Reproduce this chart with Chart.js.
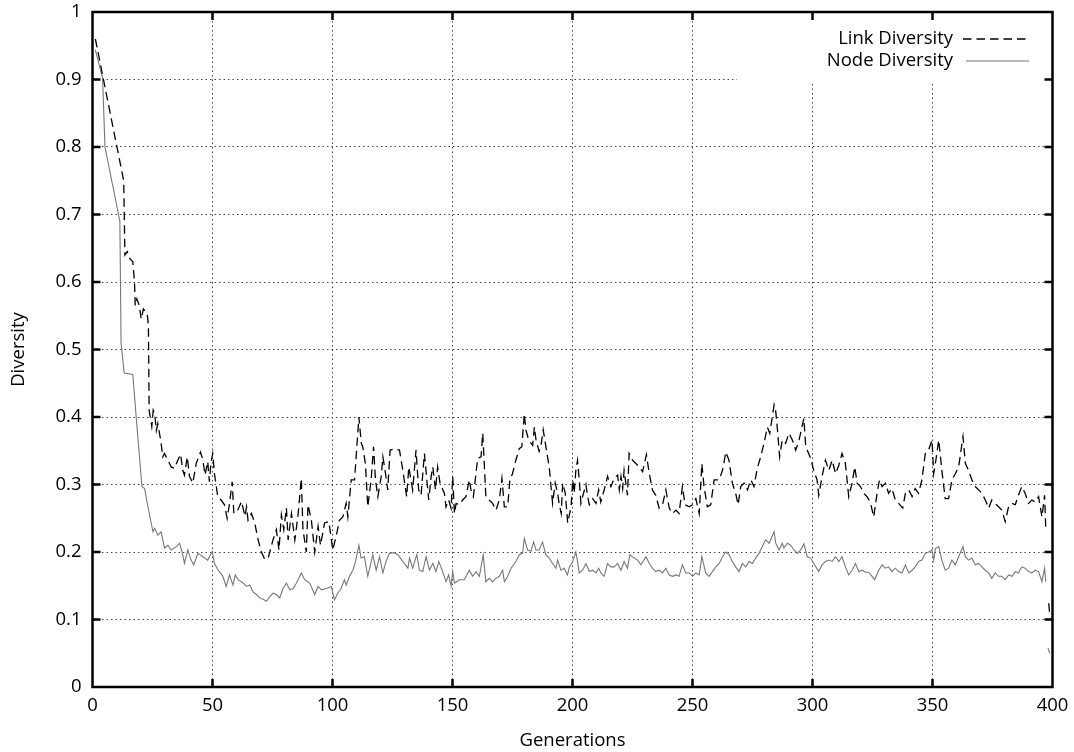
<!DOCTYPE html>
<html><head><meta charset="utf-8">
<script src="https://cdn.jsdelivr.net/npm/chart.js@4/dist/chart.umd.min.js"></script>
<style>html,body{margin:0;padding:0;background:#fff}canvas{display:block}</style>
</head><body>
<canvas id="c" width="1074" height="752" style="width:1074px;height:752px"></canvas>
<script>
// ---- data ----
const linkGen = [1.2,13,13.5,14.5,15.5,16.8,17.5,17.8,18.5,19.5,20.3,21.2,22.8,23.3,23.6,24.7,25.3,25.9,26.6,27.2,28.4,29.3,30,31.4,32.8,34.2,35.3,36.7,37.6,38.3,39.5,40.4,41.8,43.2,45,46,46.9,48,48.7,49.4,50.1,50.8,51.5,52.2,53.6,55,56.1,57.1,58.2,58.9,60.5,62.1,63.5,64.2,64.8,66.2,67.6,69,70.4,71.8,73.2,74.1,75.2,76.6,77.7,78.7,79.7,80.8,81.5,82.9,84.3,85.6,87,87.7,89.1,89.8,91.2,92.6,94,95,96.7,98.5,100.1,101.5,102.9,104.3,105.7,106.4,107.8,109.2,111,112,112.6,113.7,114.7,116.1,117.1,117.9,118.9,120.3,121,122.1,123,124,125.8,127.9,129.3,130.9,131.8,132.7,133.4,134.8,135.9,136.9,138.3,139.3,140.1,141.1,141.8,142.9,143.8,144.8,146.6,147.3,148.4,149.4,150.1,150.8,151.5,152.9,154.2,155.6,157,157.7,158.7,160.5,161.9,162.6,163.3,163.9,165.3,166.7,168.1,169.5,170.6,171.6,173,173.9,175,176.4,177.8,178.9,179.9,180.6,181.7,183.4,184.1,184.8,186.1,186.8,187.8,188.9,190.3,191.7,192.8,193.8,194.5,195.3,195.9,197,198,199.4,200.1,200.7,201.4,202.1,202.8,203.5,204.2,205.6,206.3,207,208.4,209.8,210.9,211.8,213.2,214.6,216,217.4,218.8,219.5,220.2,220.9,221.5,222.9,223.6,225,226.4,227.8,229.2,230.8,232,233.3,234.7,236.1,237.5,238.9,240.3,241.7,243.1,244.4,245.8,246.9,248.6,250,251.4,252.8,253.9,254.8,256.2,257.6,259,261.1,262.5,263.9,265.2,266.6,268,269,270.1,271.5,272.9,274.3,275.6,277,278.4,279.8,281.2,282.2,284,284.7,285.4,286.3,287.4,288.8,290.2,291.6,293,294.4,296.4,297.1,297.8,299.2,300.5,301.9,302.6,304,305.4,306.8,308.2,309.6,311,312.3,313.7,315.1,316.5,317.6,318.6,320,321.3,322.7,324.1,325.5,326.9,327.9,329,330.4,331.7,333.1,334.5,335.9,337.6,338.7,340.1,341.5,342.8,344.2,345.6,347,348.4,349.8,350.5,351.2,352.6,353.9,355.3,356.7,358.1,359.5,360.9,362.7,363.7,365,366.4,367.8,369.2,370.6,372,373.4,374.7,376.1,377.5,378.9,380.3,381.7,383.1,384.5,385.8,387.2,388.6,390,391.4,392.8,394.2,395.6,396.7,397.2,398,398.2,398.4,398.9];
const linkDiv = [0.96,0.75,0.64,0.645,0.635,0.63,0.6,0.565,0.575,0.565,0.545,0.56,0.553,0.535,0.41,0.386,0.41,0.405,0.38,0.39,0.366,0.341,0.346,0.336,0.326,0.324,0.334,0.345,0.321,0.314,0.341,0.312,0.302,0.331,0.348,0.336,0.314,0.334,0.304,0.334,0.346,0.316,0.299,0.282,0.277,0.27,0.25,0.272,0.304,0.257,0.262,0.275,0.253,0.267,0.247,0.257,0.243,0.218,0.2,0.189,0.191,0.203,0.218,0.233,0.203,0.255,0.233,0.265,0.218,0.257,0.218,0.253,0.309,0.233,0.2,0.27,0.247,0.2,0.238,0.21,0.243,0.245,0.203,0.223,0.247,0.252,0.272,0.252,0.307,0.307,0.4,0.361,0.356,0.331,0.267,0.307,0.356,0.307,0.282,0.312,0.341,0.316,0.292,0.351,0.353,0.351,0.321,0.282,0.326,0.307,0.292,0.351,0.292,0.284,0.346,0.307,0.277,0.312,0.326,0.292,0.326,0.302,0.287,0.267,0.277,0.265,0.312,0.257,0.272,0.27,0.277,0.282,0.307,0.292,0.282,0.339,0.341,0.376,0.326,0.282,0.277,0.272,0.262,0.277,0.309,0.267,0.267,0.307,0.316,0.336,0.353,0.356,0.405,0.381,0.366,0.358,0.385,0.366,0.349,0.356,0.381,0.356,0.326,0.272,0.302,0.287,0.27,0.257,0.302,0.287,0.243,0.267,0.307,0.287,0.321,0.336,0.307,0.272,0.282,0.3,0.282,0.27,0.279,0.272,0.292,0.274,0.292,0.312,0.297,0.309,0.314,0.292,0.312,0.294,0.321,0.284,0.346,0.336,0.331,0.326,0.319,0.344,0.316,0.292,0.284,0.265,0.27,0.292,0.265,0.257,0.262,0.257,0.297,0.27,0.267,0.27,0.279,0.257,0.331,0.297,0.267,0.27,0.307,0.307,0.321,0.348,0.336,0.302,0.287,0.27,0.297,0.302,0.292,0.307,0.297,0.324,0.341,0.361,0.385,0.376,0.418,0.408,0.381,0.341,0.366,0.361,0.376,0.366,0.351,0.366,0.398,0.36,0.351,0.339,0.321,0.307,0.284,0.312,0.336,0.321,0.336,0.316,0.329,0.346,0.331,0.282,0.302,0.326,0.302,0.297,0.287,0.282,0.274,0.252,0.287,0.307,0.297,0.302,0.287,0.294,0.277,0.272,0.265,0.287,0.292,0.282,0.294,0.287,0.307,0.346,0.351,0.366,0.316,0.331,0.366,0.321,0.279,0.279,0.307,0.316,0.326,0.371,0.331,0.321,0.307,0.297,0.292,0.287,0.277,0.265,0.277,0.272,0.267,0.262,0.245,0.267,0.272,0.27,0.284,0.297,0.287,0.272,0.277,0.274,0.282,0.252,0.284,0.235,0.235,null,0.124,0.106];
const nodeGen = [1.2,4.2,5.2,11.4,11.9,13.2,16.8,18.2,20.6,21.7,23.1,25.2,25.9,27.2,28.6,30,31.4,32.8,34.9,36.3,37.6,38.3,39.7,41.1,42.2,43.9,46,48,49.9,50.8,52.2,54.3,55.7,57.1,58.5,59.5,60.7,62.8,64.2,65.5,66.9,68.3,69.7,71.1,72.5,73.9,75.2,76.6,78,79.4,80.8,82.2,83.6,85,87,88.4,90.5,92.6,94,95.4,97.4,99.5,100.8,102.2,103.6,105,105.7,107.1,108.5,109.6,111,111.9,113.3,114.7,116.8,118.2,119.6,121,122.3,123.7,125.8,127.2,129.3,131.4,132.1,133.4,135.1,136.2,137.6,139,140.4,141.8,143.1,144.3,145.9,147.3,148.4,149.4,150.1,150.8,152.9,154.9,157,158.4,159.8,161.2,162.8,163.9,165.3,166.7,168.1,169.5,170.9,171.6,173,174.4,176.4,177.8,179.2,179.9,181.3,182.7,183.8,184.8,186.1,187.5,188.9,190.3,191.7,193.1,193.8,195.2,196.5,197.9,198.7,200.1,201.4,202.1,202.8,204.2,205.6,207,208.4,209.8,210.9,211.8,213.2,214.6,216,217.4,218.8,220.2,221.5,222.9,223.9,225.7,227.1,228.5,230.6,232,233.3,234.7,236.1,237.5,238.9,240.3,241.7,243.1,244.4,245.8,247.2,248.6,250,251.4,252.8,253.9,255.5,256.9,258.3,259.7,261.1,262.5,263.9,265.2,266.6,268,269.4,270.8,272.2,273.6,275,276.3,277.7,279.1,280.5,281.9,284,284.7,286.1,287.4,288.1,289.5,290.9,292.3,293.7,295.1,296.4,297.8,299.2,300.5,302.6,304,305.4,306.8,308.2,309.6,311,312.3,313.7,315.1,316.5,317.9,319.3,320.7,322,323.4,324.8,325.9,327.6,329,330.4,331.7,333.1,334.5,335.9,337.3,338.7,340.1,341.5,342.8,344.2,345.6,347,348.4,349.8,350.5,351.2,352.6,353.9,355.3,356.7,358.1,359.5,360.9,362.7,363.7,365,366.4,367.8,369.2,370.6,372,373.4,374.7,376.1,377.5,378.9,380.3,381.7,383.1,384.5,385.8,387.2,388.6,390,391.4,392.8,394.2,395.6,396.7,397.2,397.6,398.1,398.9];
const nodeDiv = [0.944,0.902,0.8,0.69,0.51,0.465,0.463,0.4,0.297,0.294,0.267,0.23,0.235,0.225,0.23,0.206,0.21,0.203,0.208,0.213,0.196,0.183,0.203,0.188,0.181,0.198,0.193,0.188,0.201,0.183,0.174,0.164,0.149,0.166,0.151,0.166,0.159,0.154,0.149,0.151,0.141,0.137,0.132,0.13,0.127,0.134,0.139,0.137,0.132,0.146,0.154,0.144,0.146,0.154,0.169,0.159,0.154,0.137,0.149,0.144,0.146,0.149,0.129,0.139,0.146,0.159,0.151,0.164,0.173,0.186,0.21,0.191,0.193,0.164,0.196,0.173,0.193,0.169,0.186,0.198,0.199,0.196,0.186,0.176,0.191,0.176,0.196,0.173,0.171,0.193,0.173,0.183,0.171,0.186,0.171,0.156,0.166,0.15,0.171,0.154,0.159,0.159,0.173,0.164,0.171,0.164,0.196,0.156,0.161,0.156,0.161,0.164,0.173,0.156,0.164,0.176,0.186,0.196,0.198,0.22,0.203,0.201,0.215,0.203,0.203,0.215,0.196,0.191,0.183,0.176,0.188,0.173,0.176,0.166,0.178,0.186,0.2,0.186,0.169,0.173,0.183,0.171,0.173,0.169,0.176,0.169,0.164,0.183,0.178,0.178,0.183,0.173,0.186,0.176,0.196,0.191,0.188,0.181,0.193,0.183,0.176,0.171,0.173,0.169,0.176,0.166,0.164,0.166,0.164,0.181,0.169,0.169,0.164,0.169,0.166,0.193,0.169,0.164,0.171,0.178,0.183,0.193,0.2,0.196,0.186,0.178,0.171,0.183,0.178,0.186,0.183,0.191,0.198,0.208,0.218,0.213,0.23,0.213,0.203,0.213,0.206,0.213,0.21,0.203,0.198,0.203,0.212,0.193,0.191,0.183,0.171,0.181,0.186,0.188,0.186,0.193,0.186,0.193,0.178,0.166,0.173,0.183,0.171,0.173,0.17,0.17,0.164,0.159,0.173,0.181,0.176,0.178,0.171,0.176,0.171,0.169,0.181,0.169,0.173,0.178,0.186,0.188,0.198,0.2,0.203,0.188,0.205,0.208,0.188,0.173,0.176,0.188,0.181,0.193,0.208,0.193,0.188,0.191,0.181,0.183,0.178,0.173,0.169,0.161,0.169,0.164,0.164,0.159,0.166,0.164,0.171,0.169,0.178,0.176,0.171,0.169,0.173,0.171,0.156,0.176,0.156,null,0.058,0.05];
const seriesNames = ['Link Diversity', 'Node Diversity'];
const xTicks = [0, 50, 100, 150, 200, 250, 300, 350, 400];
const yTicks = [0, 0.1, 0.2, 0.3, 0.4, 0.5, 0.6, 0.7, 0.8, 0.9, 1];
const yTickLabels = ['0', '0.1', '0.2', '0.3', '0.4', '0.5', '0.6', '0.7', '0.8', '0.9', '1'];
const xTitle = 'Generations';
const yTitle = 'Diversity';

// ---- styling ----
const FONT = "'Open Sans', sans-serif";
Chart.defaults.font.family = FONT;
Chart.defaults.font.size = 18.5;
Chart.defaults.color = '#000';

const LINK_DASH = [8.5, 5];
const NODE_COLOR = '#777777';

const toPts = (g, v) => g.map((x, i) => ({x: x, y: v[i]}));

const frame = {
  id: 'frame',
  beforeDatasetsDraw(chart) {
    const {ctx, chartArea: a} = chart;
    ctx.save();
    ctx.fillStyle = '#fff';
    ctx.fillRect(737, a.top, a.right - 737, 72);
    ctx.restore();
  },
  afterDatasetsDraw(chart) {
    const {ctx, chartArea: a, scales: {x, y}} = chart;
    ctx.save();
    // legend
    ctx.font = '18.5px ' + FONT;
    ctx.textAlign = 'right';
    ctx.textBaseline = 'middle';
    ctx.fillStyle = '#000';
    const rows = [39, 61];
    ctx.fillText(seriesNames[0], 953, rows[0]);
    ctx.fillText(seriesNames[1], 953, rows[1]);
    ctx.lineWidth = 1.3;
    ctx.strokeStyle = '#000';
    ctx.setLineDash(LINK_DASH);
    ctx.beginPath(); ctx.moveTo(963, rows[0]); ctx.lineTo(1029, rows[0]); ctx.stroke();
    ctx.setLineDash([]);
    ctx.lineWidth = 1.1;
    ctx.strokeStyle = NODE_COLOR;
    ctx.beginPath(); ctx.moveTo(966, rows[1]); ctx.lineTo(1029, rows[1]); ctx.stroke();
    // border
    ctx.strokeStyle = '#000';
    ctx.lineWidth = 2.5;
    ctx.strokeRect(a.left, a.top, a.right - a.left, a.bottom - a.top);
    // inward ticks
    const T = 8;
    ctx.beginPath();
    xTicks.slice(1, -1).forEach(v => {
      const px = x.getPixelForValue(v);
      ctx.moveTo(px, a.bottom); ctx.lineTo(px, a.bottom - T);
      ctx.moveTo(px, a.top); ctx.lineTo(px, a.top + T);
    });
    yTicks.slice(1, -1).forEach(v => {
      const py = y.getPixelForValue(v);
      ctx.moveTo(a.left, py); ctx.lineTo(a.left + T, py);
      ctx.moveTo(a.right, py); ctx.lineTo(a.right - T, py);
    });
    ctx.stroke();
    ctx.restore();
  }
};

const gridOpts = {color: '#444', lineWidth: 1, drawTicks: false};
const borderOpts = {display: false, dash: [1.5, 3]};

new Chart(document.getElementById('c'), {
  type: 'line',
  data: {
    datasets: [
      {label: seriesNames[0], data: toPts(linkGen, linkDiv), borderColor: '#000', borderWidth: 1.3,
       borderDash: LINK_DASH, pointRadius: 0, tension: 0, spanGaps: false, fill: false},
      {label: seriesNames[1], data: toPts(nodeGen, nodeDiv), borderColor: NODE_COLOR, borderWidth: 1.1,
       pointRadius: 0, tension: 0, spanGaps: false, fill: false}
    ]
  },
  options: {
    responsive: false,
    animation: false,
    devicePixelRatio: 1,
    layout: {padding: {top: 12, right: 21.5, bottom: 0, left: 0}},
    plugins: {legend: {display: false}, tooltip: {enabled: false}},
    scales: {
      x: {
        type: 'linear', min: 0, max: 400,
        afterBuildTicks: s => { s.ticks = xTicks.map(v => ({value: v})); },
        afterFit: s => { s.height = 65; s.paddingLeft = 0; s.paddingRight = 0; },
        ticks: {padding: 8, maxRotation: 0, callback: v => String(v)},
        grid: gridOpts, border: borderOpts,
        title: {display: true, text: xTitle, padding: {top: 0, bottom: 0}}
      },
      y: {
        type: 'linear', min: 0, max: 1,
        afterBuildTicks: s => { s.ticks = yTicks.map(v => ({value: v})); },
        afterFit: s => { s.width = 92.5; s.paddingTop = 0; s.paddingBottom = 0; },
        ticks: {padding: 11, callback: (v, i) => yTickLabels[i]},
        grid: gridOpts, border: borderOpts,
        title: {display: true, text: yTitle, padding: {top: 8, bottom: 0}}
      }
    }
  },
  plugins: [frame]
});
</script>
</body></html>
